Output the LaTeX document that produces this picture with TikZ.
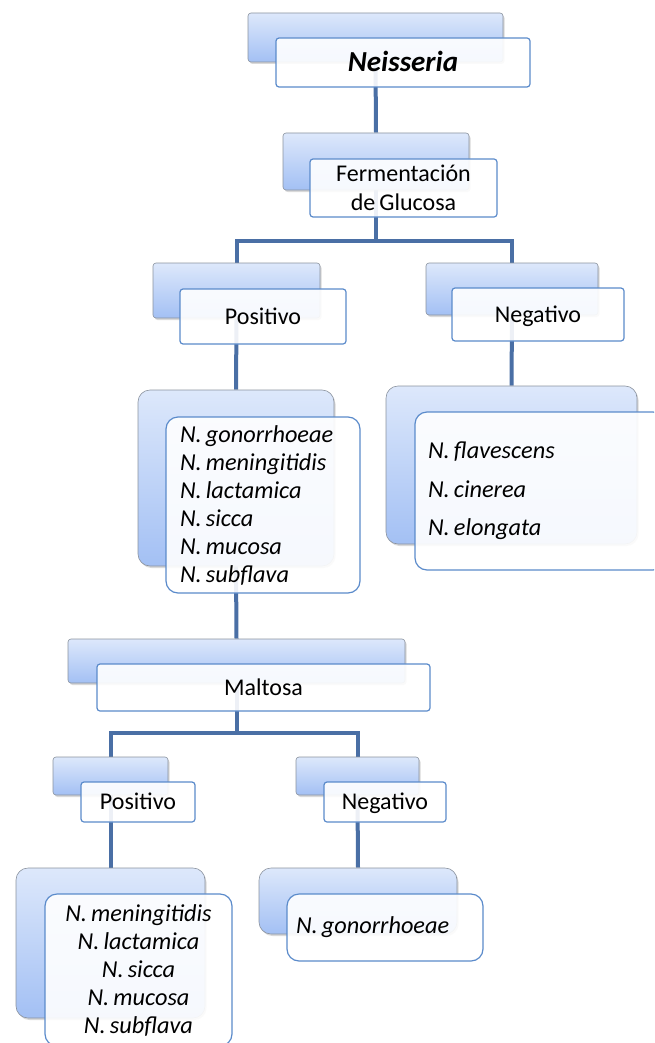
\documentclass[tikz,border=0pt]{standalone}
\usepackage{fontspec}
\setmainfont{Carlito}[WordSpace=0.75]
\usetikzlibrary{shadows}
\definecolor{connblue}{HTML}{4A6FA5}
\definecolor{frameblue}{HTML}{5B8BCB}
\definecolor{backtop}{HTML}{DDE8FB}
\definecolor{backbot}{HTML}{A3C0F4}
\definecolor{backline}{HTML}{8A929E}
\pgfdeclarelayer{bg}
\pgfsetlayers{bg,main}
\begin{document}
\begin{tikzpicture}[x=1pt,y=-1pt,
  backbox/.style={rectangle, rounded corners=3pt, top color=backtop, bottom color=backbot,
    draw=backline, line width=0.6pt, inner sep=0pt,
    drop shadow={shadow xshift=1.5pt, shadow yshift=-2pt, opacity=0.3}},
  frontbox/.style={rectangle, rounded corners=3pt, draw=frameblue, line width=1.2pt,
    fill=white, fill opacity=0.9, text opacity=1, inner sep=0pt,
    font=\fontsize{24}{28.5}\selectfont},
  labelbox/.style={frontbox, text height=17pt, text depth=2pt},
  listback/.style={backbox, rounded corners=12pt},
  listfront/.style={frontbox, rounded corners=12pt, font=\fontsize{24.3}{28}\selectfont\itshape,
    execute at begin node={\spaceskip=0.17em plus 0.05em\relax}},
  conn/.style={draw=connblue, line width=4pt}]
\useasboundingbox (0,0) rectangle (654,1043);
\clip (0,0) rectangle (654,1043);

% level 0
\node[backbox, minimum width=255pt, minimum height=49pt] (neis-b) at (375.5,37.5) {};
\node[frontbox, minimum width=254pt, minimum height=49pt, text height=20pt, text depth=2pt,
  font=\fontsize{29}{34}\selectfont\bfseries\itshape] (neis) at (403,62.5) {Neisseria};

% level 1
\node[backbox, minimum width=186pt, minimum height=57pt] (ferm-b) at (376,161.5) {};
\node[frontbox, minimum width=187pt, minimum height=58pt, align=center] (ferm) at (403.5,188)
  {Fermentación\\de Glucosa};

% level 2
\node[backbox, minimum width=167pt, minimum height=55pt] (pos-b) at (236.5,290.5) {};
\node[labelbox, minimum width=166pt, minimum height=55pt] (pos) at (263,316.5) {Positivo};
\node[backbox, minimum width=172pt, minimum height=52pt] (neg-b) at (512,289) {};
\node[labelbox, minimum width=172pt, minimum height=53pt] (neg) at (538,314.5) {Negativo};

% level 3
\node[listback, minimum width=196pt, minimum height=176pt] (posl-b) at (236,478) {};
\node[listfront, minimum width=194pt, minimum height=176pt, inner xsep=14pt,
  text width=166pt, align=left] (posl) at (263,505)
  {N. gonorrhoeae\\N. meningitidis\\N. lactamica\\N. sicca\\N. mucosa\\N. subflava};
\node[listback, minimum width=251pt, minimum height=158pt] (negl-b) at (511.5,465) {};
\node[listfront, minimum width=250pt, minimum height=158pt, inner xsep=13pt,
  text width=224pt, align=left, font=\fontsize{24.3}{38.5}\selectfont\itshape] (negl) at (540,491)
  {N. flavescens\\N. cinerea\\N. elongata};

% level 4
\node[backbox, minimum width=337pt, minimum height=44pt] (malt-b) at (236.5,661) {};
\node[labelbox, minimum width=333pt, minimum height=47pt] (malt) at (263.5,687.5) {Maltosa};

% level 5
\node[backbox, minimum width=115pt, minimum height=38pt] (pos2-b) at (110.5,776) {};
\node[labelbox, minimum width=114pt, minimum height=40pt] (pos2) at (138,802) {Positivo};
\node[backbox, minimum width=123pt, minimum height=38pt] (neg2-b) at (357.5,776) {};
\node[labelbox, minimum width=122pt, minimum height=40pt] (neg2) at (385,802) {Negativo};

% level 6
\node[listback, minimum width=189pt, minimum height=150pt] (pos2l-b) at (110.5,943) {};
\node[listfront, minimum width=187pt, minimum height=152pt, align=center] (pos2l) at (138.5,970)
  {N. meningitidis\\N. lactamica\\N. sicca\\N. mucosa\\N. subflava};
\node[listback, minimum width=198pt, minimum height=66pt] (neg2l-b) at (358,901) {};
\node[listfront, minimum width=196pt, minimum height=67pt, inner xsep=9pt,
  text width=178pt, align=left] (neg2l) at (385,927.5) {N. gonorrhoeae};

% junction points of the branching connectors
\coordinate (j1) at (376,241);
\coordinate (j2) at (236.5,733);

\begin{pgfonlayer}{bg}
  \draw[conn] (neis-b.south) -- (ferm-b.north);
  \draw[conn] (ferm-b.south) -- (j1) -| (pos-b.north);
  \draw[conn] (j1) -| (neg-b.north);
  \draw[conn] (pos-b.south) -- (posl-b.north);
  \draw[conn] (neg-b.south) -- (negl-b.north);
  \draw[conn] (posl-b.south) -- (malt-b.north);
  \draw[conn] (malt-b.south) -- (j2) -| (pos2-b.north);
  \draw[conn] (j2) -| (neg2-b.north);
  \draw[conn] (pos2-b.south) -- (pos2l-b.north);
  \draw[conn] (neg2-b.south) -- (neg2l-b.north);
\end{pgfonlayer}
\end{tikzpicture}
\end{document}
